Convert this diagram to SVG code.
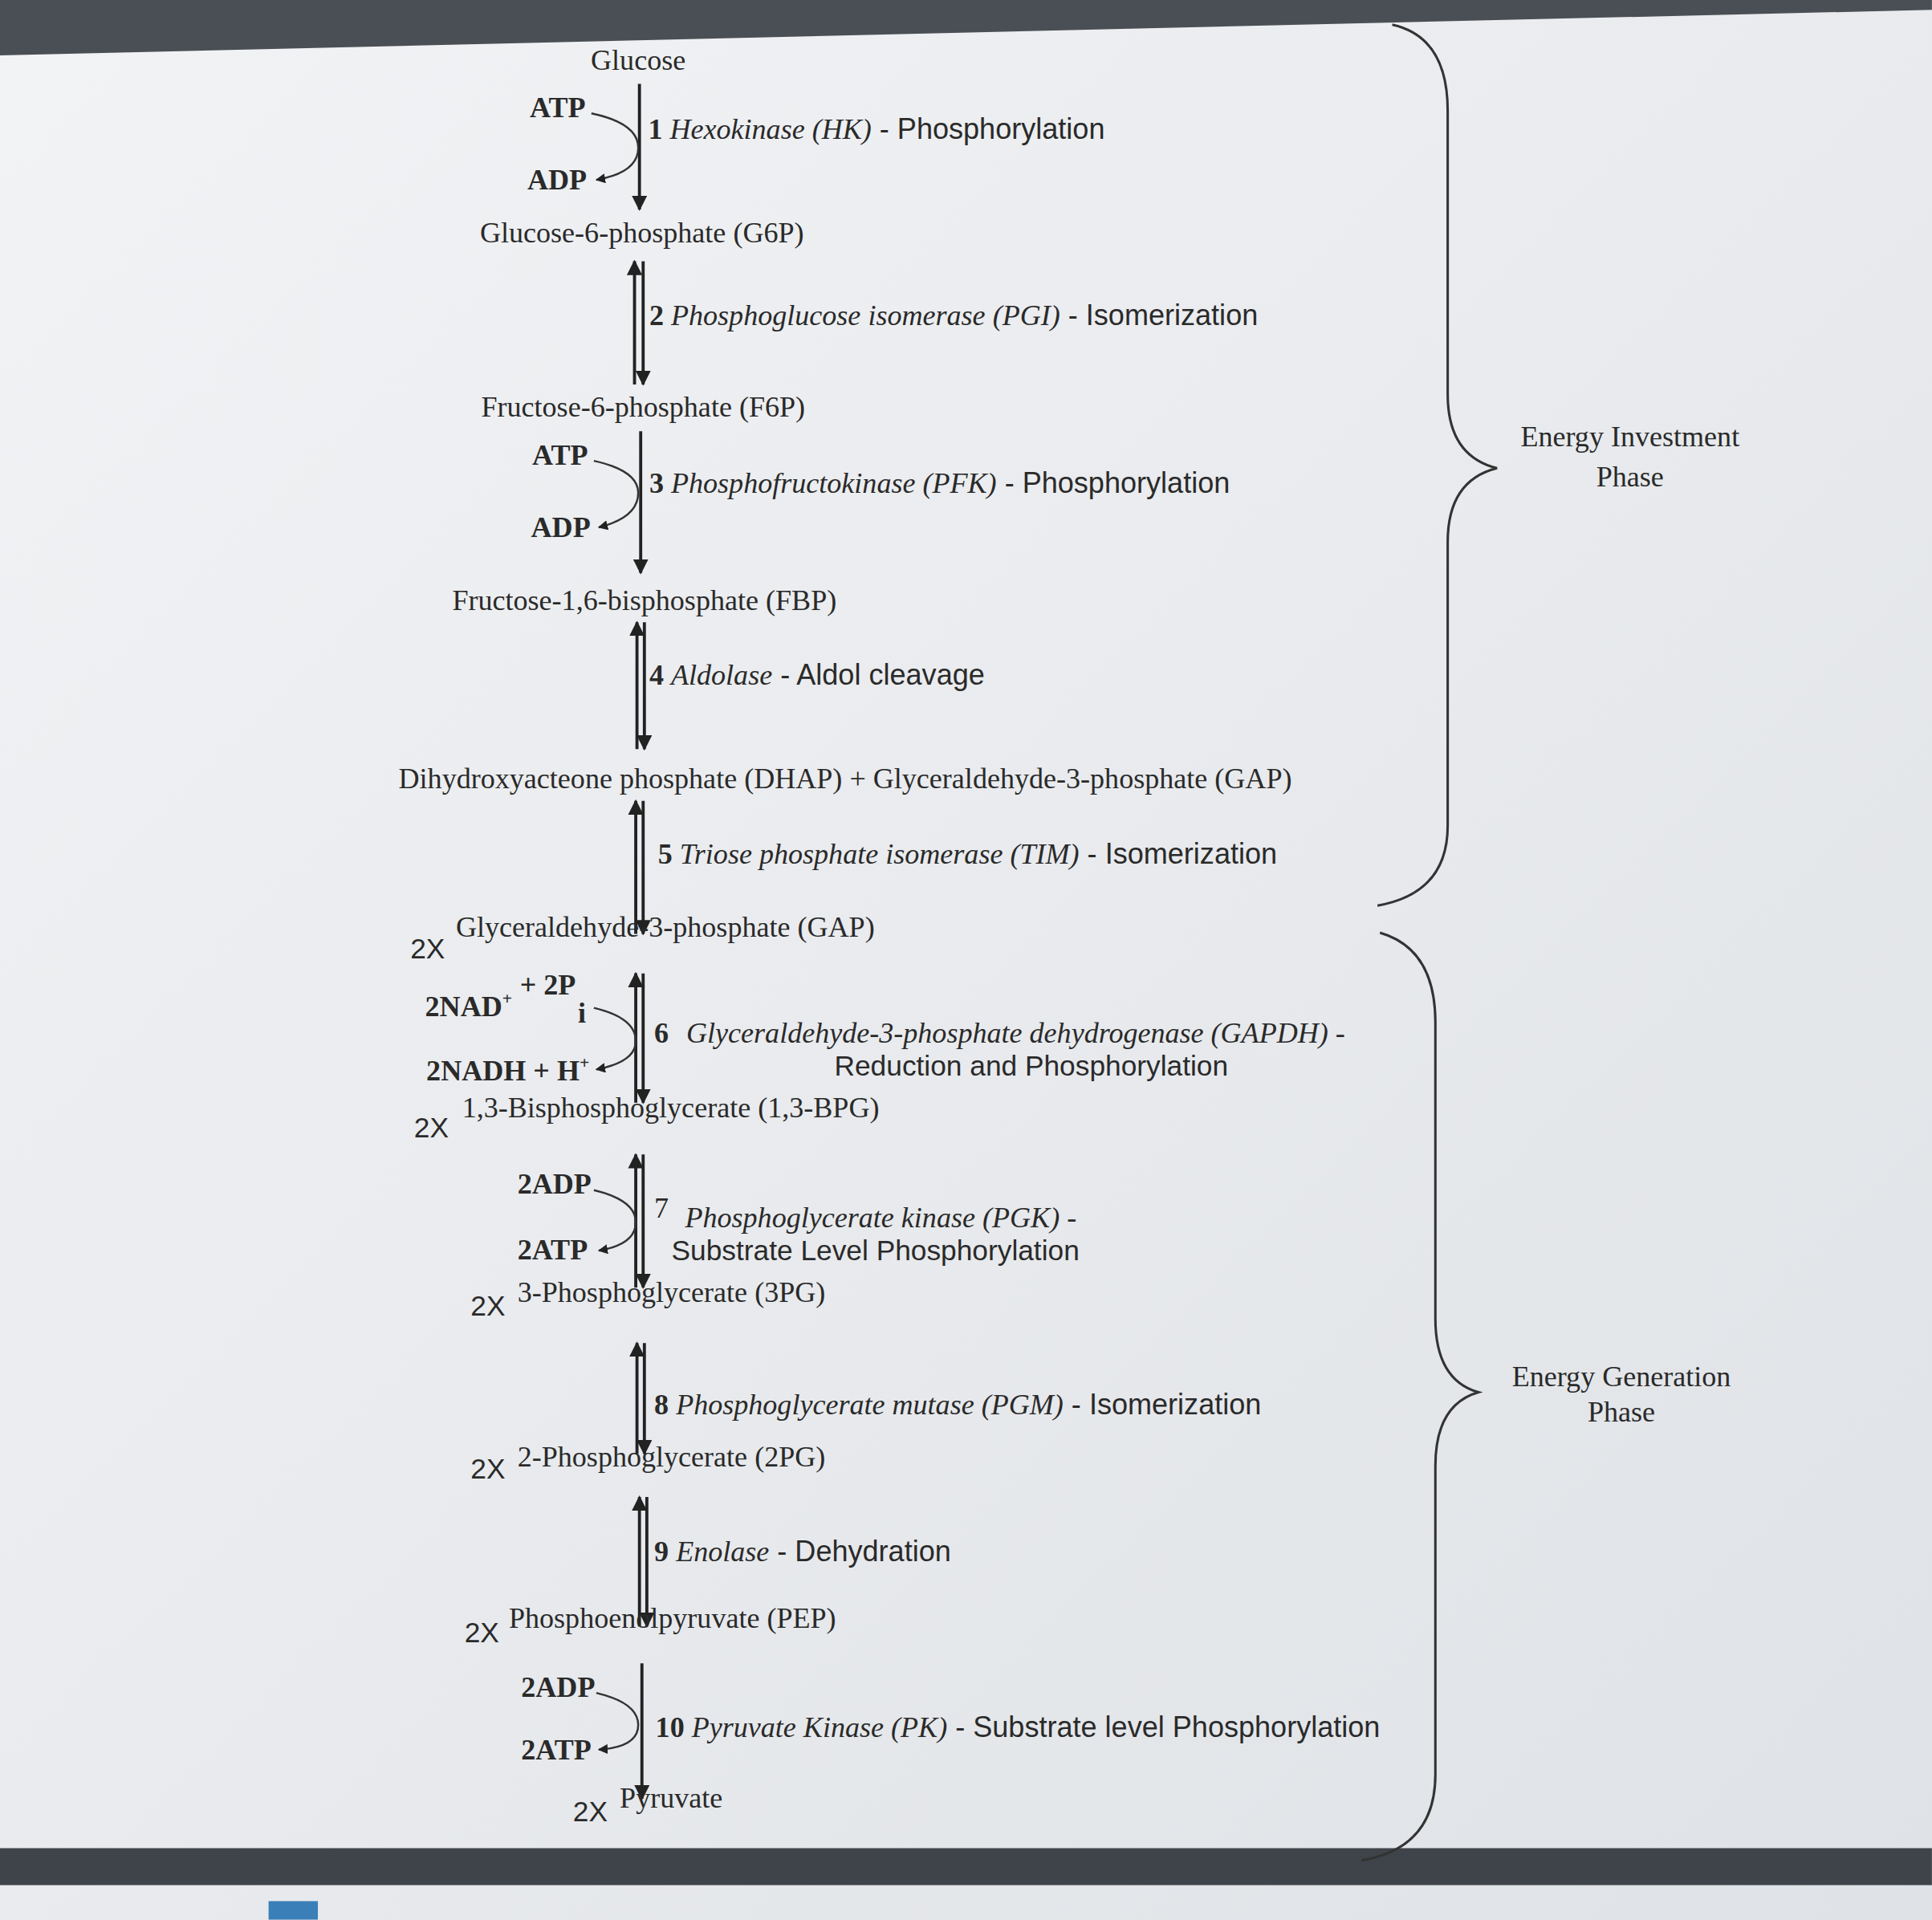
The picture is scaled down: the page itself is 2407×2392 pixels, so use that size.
<svg xmlns="http://www.w3.org/2000/svg" width="2407" height="2392" viewBox="0 0 2407 2392">
<defs>
<marker id="ah" viewBox="0 0 10 10" refX="9" refY="5" markerWidth="5" markerHeight="5" orient="auto-start-reverse"><path d="M0,0 L10,5 L0,10 z" fill="#222"/></marker>
<linearGradient id="bg" x1="0" y1="0" x2="1" y2="1"><stop offset="0" stop-color="#f2f3f5"/><stop offset="1" stop-color="#dfe2e6"/></linearGradient>
</defs>
<style>
.s{font-family:"Liberation Serif",serif;font-size:23.5px;fill:#2a2a2a}
.b{font-weight:bold}
.i{font-style:italic}
.a{font-family:"Liberation Sans",sans-serif;font-size:23px;fill:#2a2a2a}
.m{stroke:#222;stroke-width:2.5;fill:none}
.c{stroke:#333;stroke-width:1.6;fill:none}
.br{stroke:#333;stroke-width:2;fill:none}
</style>
<rect width="2407" height="2392" fill="url(#bg)"/>
<g transform="scale(1.535)">
<path d="M0,0 H1568 V8 L0,45 z" fill="#4a4f55"/>
<rect x="0" y="1500" width="1568" height="30" fill="#3f444a"/>
<rect x="218" y="1543" width="40" height="15" fill="#3a7fb8"/>
<g id="connectors">
<line class="m" x1="519" y1="68" x2="519" y2="170" marker-end="url(#ah)"/>
<path class="c" d="M480,92 Q518,100 518,120 Q518,140 484,146" marker-end="url(#ah)"/>
<line class="m" x1="515" y1="212" x2="515" y2="312" marker-start="url(#ah)"/>
<line class="m" x1="522" y1="212" x2="522" y2="312" marker-end="url(#ah)"/>
<line class="m" x1="520" y1="350" x2="520" y2="465" marker-end="url(#ah)"/>
<path class="c" d="M482,374 Q518,382 518,400 Q518,420 486,428" marker-end="url(#ah)"/>
<line class="m" x1="517" y1="505" x2="517" y2="608" marker-start="url(#ah)"/>
<line class="m" x1="523" y1="505" x2="523" y2="608" marker-end="url(#ah)"/>
<line class="m" x1="516" y1="650" x2="516" y2="758" marker-start="url(#ah)"/>
<line class="m" x1="522" y1="650" x2="522" y2="758" marker-end="url(#ah)"/>
<line class="m" x1="516" y1="790" x2="516" y2="895" marker-start="url(#ah)"/>
<line class="m" x1="522" y1="790" x2="522" y2="895" marker-end="url(#ah)"/>
<path class="c" d="M482,818 Q516,826 516,845 Q516,862 484,868" marker-end="url(#ah)"/>
<line class="m" x1="516" y1="937" x2="516" y2="1045" marker-start="url(#ah)"/>
<line class="m" x1="522" y1="937" x2="522" y2="1045" marker-end="url(#ah)"/>
<path class="c" d="M482,966 Q516,974 516,992 Q516,1010 486,1015" marker-end="url(#ah)"/>
<line class="m" x1="517" y1="1090" x2="517" y2="1180" marker-start="url(#ah)"/>
<line class="m" x1="523" y1="1090" x2="523" y2="1180" marker-end="url(#ah)"/>
<line class="m" x1="519" y1="1215" x2="519" y2="1320" marker-start="url(#ah)"/>
<line class="m" x1="525" y1="1215" x2="525" y2="1320" marker-end="url(#ah)"/>
<line class="m" x1="521" y1="1350" x2="521" y2="1460" marker-end="url(#ah)"/>
<path class="c" d="M484,1374 Q518,1382 518,1400 Q518,1418 486,1420" marker-end="url(#ah)"/>
<path class="br" d="M1130,20 Q1175,30 1175,90 L1175,320 Q1175,370 1215,380 Q1175,390 1175,440 L1175,670 Q1175,725 1118,735"/>
<path class="br" d="M1120,757 Q1165,770 1165,830 L1165,1070 Q1165,1120 1200,1130 Q1165,1140 1165,1190 L1165,1440 Q1165,1500 1105,1510"/>
</g>
<g id="glucose"><text class="s" x="518" y="57" text-anchor="middle">Glucose</text></g>
<g id="s1"><text class="s b" x="430" y="95">ATP</text><text class="s b" x="428" y="154">ADP</text>
<text class="s" x="526" y="113"><tspan class="b">1 </tspan><tspan class="i">Hexokinase (HK)</tspan><tspan font-family="Liberation Sans"> - Phosphorylation</tspan></text></g>
<g id="g6p"><text class="s" x="521" y="197" text-anchor="middle">Glucose-6-phosphate (G6P)</text></g>
<g id="s2"><text class="s" x="527" y="264"><tspan class="b">2 </tspan><tspan class="i">Phosphoglucose isomerase (PGI)</tspan><tspan font-family="Liberation Sans"> - Isomerization</tspan></text></g>
<g id="f6p"><text class="s" x="522" y="338" text-anchor="middle">Fructose-6-phosphate (F6P)</text></g>
<g id="s3"><text class="s b" x="432" y="377">ATP</text><text class="s b" x="431" y="436">ADP</text>
<text class="s" x="527" y="400"><tspan class="b">3 </tspan><tspan class="i">Phosphofructokinase (PFK)</tspan><tspan font-family="Liberation Sans"> - Phosphorylation</tspan></text></g>
<g id="fbp"><text class="s" x="523" y="495" text-anchor="middle">Fructose-1,6-bisphosphate (FBP)</text></g>
<g id="s4"><text class="s" x="527" y="556"><tspan class="b">4 </tspan><tspan class="i">Aldolase</tspan><tspan font-family="Liberation Sans"> - Aldol cleavage</tspan></text></g>
<g id="dhap"><text class="s" x="686" y="640" text-anchor="middle">Dihydroxyacteone phosphate (DHAP) + Glyceraldehyde-3-phosphate (GAP)</text></g>
<g id="s5"><text class="s" x="534" y="701"><tspan class="b">5 </tspan><tspan class="i">Triose phosphate isomerase (TIM)</tspan><tspan font-family="Liberation Sans"> - Isomerization</tspan></text></g>
<g id="gap"><text class="a" x="333" y="778">2X</text><text class="s" x="370" y="760">Glyceraldehyde-3-phosphate (GAP)</text></g>
<g id="s6"><text class="s b" x="345" y="825">2NAD<tspan font-size="14" dy="-10">+</tspan></text>
<text class="s b" x="422" y="807">+ 2P</text><text class="s b" x="469" y="830" font-size="13">i</text>
<text class="s b" x="346" y="877">2NADH + H<tspan font-size="14" dy="-10">+</tspan></text>
<text class="s b" x="531" y="846">6</text>
<text class="s i" x="557" y="846">Glyceraldehyde-3-phosphate dehydrogenase (GAPDH) -</text>
<text class="a" x="837" y="873" text-anchor="middle">Reduction and Phosphorylation</text></g>
<g id="bpg"><text class="a" x="336" y="923">2X</text><text class="s" x="375" y="907">1,3-Bisphosphoglycerate (1,3-BPG)</text></g>
<g id="s7"><text class="s b" x="420" y="969">2ADP</text><text class="s b" x="420" y="1022">2ATP</text>
<text class="s" x="531" y="988">7</text>
<text class="s i" x="556" y="996">Phosphoglycerate kinase (PGK) -</text>
<text class="a" x="545" y="1023">Substrate Level Phosphorylation</text></g>
<g id="pg3"><text class="a" x="382" y="1068">2X</text><text class="s" x="420" y="1057">3-Phosphoglycerate (3PG)</text></g>
<g id="s8"><text class="s" x="531" y="1148"><tspan class="b">8 </tspan><tspan class="i">Phosphoglycerate mutase (PGM)</tspan><tspan font-family="Liberation Sans"> - Isomerization</tspan></text></g>
<g id="pg2"><text class="a" x="382" y="1200">2X</text><text class="s" x="420" y="1190">2-Phosphoglycerate (2PG)</text></g>
<g id="s9"><text class="s" x="531" y="1267"><tspan class="b">9 </tspan><tspan class="i">Enolase</tspan><tspan font-family="Liberation Sans"> - Dehydration</tspan></text></g>
<g id="pep"><text class="a" x="377" y="1333">2X</text><text class="s" x="413" y="1321">Phosphoenolpyruvate (PEP)</text></g>
<g id="s10"><text class="s b" x="423" y="1377">2ADP</text><text class="s b" x="423" y="1428">2ATP</text>
<text class="s" x="532" y="1410"><tspan class="b">10 </tspan><tspan class="i">Pyruvate Kinase (PK)</tspan><tspan font-family="Liberation Sans"> - Substrate level Phosphorylation</tspan></text></g>
<g id="pyruvate"><text class="a" x="465" y="1478">2X</text><text class="s" x="503" y="1467">Pyruvate</text></g>
<g id="eip"><text class="s" x="1323" y="362" text-anchor="middle">Energy Investment</text><text class="s" x="1323" y="395" text-anchor="middle">Phase</text></g>
<g id="egp"><text class="s" x="1316" y="1125" text-anchor="middle">Energy Generation</text><text class="s" x="1316" y="1154" text-anchor="middle">Phase</text></g>
</g>
</svg>
